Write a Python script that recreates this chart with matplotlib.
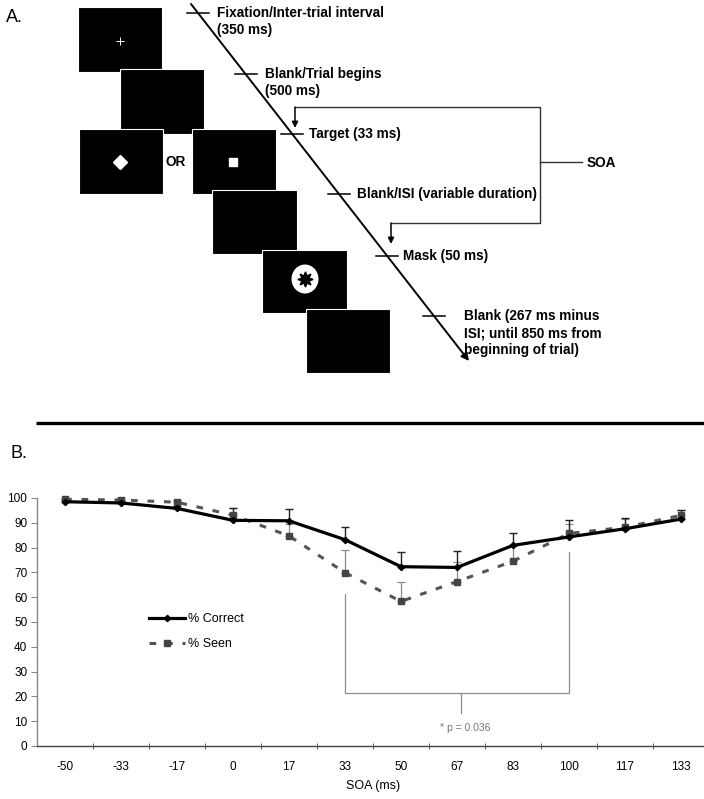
import numpy as np
import matplotlib
matplotlib.use("Agg")
import matplotlib.pyplot as plt
from matplotlib.patches import Rectangle, Ellipse

plt.rcParams["font.family"] = ["Liberation Sans", "DejaVu Sans"]

## VERİ (panel B)

soa_labels = ["-50", "-33", "-17", "0", "17", "33", "50", "67", "83", "100", "117", "133"]
correct = [98.5, 98.0, 95.8, 91.0, 90.8, 83.2, 72.3, 72.0, 80.9, 84.3, 87.6, 91.5]
correct_err = [0.6, 0.6, 0.8, 5.0, 4.8, 5.2, 5.9, 6.8, 4.9, 6.8, 4.5, 3.6]
seen = [99.5, 99.2, 98.3, 93.1, 84.7, 69.9, 58.3, 66.3, 74.5, 85.7, 88.2, 93.0]
seen_err = [0.5, 0.6, 0.8, 3.0, 5.0, 9.0, 7.9, 8.0, 6.0, 3.8, 3.5, 2.3]
yticks = [0, 10, 20, 30, 40, 50, 60, 70, 80, 90, 100]

# anlamlılık parantezi: hangi SOA'lar arası ve p değeri
sig_pair = ("33", "100")
sig_text = "* p = 0.036"

## PANEL A şema (piksel koordinatları)

# kareler: (x, y, genişlik, yükseklik)
screens = [(78, 7, 84, 65), (120, 69, 84, 65), (79, 129, 84, 65), (192, 129, 84, 65),
           (212, 190, 85, 64), (262, 250, 85, 63), (306, 309, 84, 64)]
timeline_labels = [
    (13, 217, ["Fixation/Inter-trial interval", "(350 ms)"]),
    (74, 265, ["Blank/Trial begins", "(500 ms)"]),
    (134, 309, ["Target (33 ms)"]),
    (194, 357, ["Blank/ISI (variable duration)"]),
    (256, 403, ["Mask (50 ms)"]),
    (316, 464, ["Blank (267 ms minus", "ISI; until 850 ms from", "beginning of trial)"]),
]

fig = plt.figure(figsize=(7.04, 7.99), dpi=100)

# üst katman: tüm figür piksel ölçeğinde
ov = fig.add_axes([0, 0, 1, 1])
ov.set_xlim(0, 704)
ov.set_ylim(799, 0)
ov.axis("off")

for (x, y, w, h) in screens:
    ov.add_patch(Rectangle((x, y), w, h, facecolor="black", edgecolor="white", lw=0.8))

# uyaranlar
ov.plot(120, 41, marker="+", color="white", ms=6, mew=0.7)
ov.plot(120, 162, marker="D", color="white", ms=7)
ov.plot(233, 162, marker="s", color="white", ms=5.5)
ov.add_patch(Ellipse((305, 279), 27, 29, facecolor="white", edgecolor="none"))
ov.plot(305, 279, marker=(8, 1, 0), color="black", ms=11)
ov.text(176, 162, "OR", fontsize=9.8, fontweight="bold", ha="center", va="center")

# zaman çizgisi
x0, y0, x1, y1 = 191, 4, 469, 361
ov.annotate("", xy=(x1, y1), xytext=(x0, y0),
            arrowprops=dict(arrowstyle="-|>", color="black", lw=1.4,
                            mutation_scale=11, shrinkA=0, shrinkB=0))
for (ty, tx, lines) in timeline_labels:
    cx = x0 + (ty - y0) * (x1 - x0) / (y1 - y0)
    ov.plot([cx - 11, cx + 11], [ty, ty], color="black", lw=1.1)
    for i, line in enumerate(lines):
        ov.text(tx, ty + i * 17, line, fontsize=9.8, fontweight="bold", ha="left", va="center")

# SOA parantezi
bc = "#333333"
ov.plot([295, 540, 540, 391], [107, 107, 223, 223], color=bc, lw=1)
ov.plot([540, 582], [162, 162], color=bc, lw=1)
for ax_x, top in [(295, 107), (391, 223)]:
    ov.annotate("", xy=(ax_x, top + 21), xytext=(ax_x, top),
                arrowprops=dict(arrowstyle="-|>", color="black", lw=1.1,
                                mutation_scale=9, shrinkA=0, shrinkB=0))
ov.text(587, 163, "SOA", fontsize=9.8, fontweight="bold", ha="left", va="center")

ov.text(6, 18, "A.", fontsize=13, ha="left", va="center")
ov.text(11, 453, "B.", fontsize=13, ha="left", va="center")
ov.plot([36, 704], [423, 423], color="black", lw=2.4, solid_capstyle="butt")

## PANEL B grafik

ax = fig.add_axes([37 / 704, 53 / 799, 672 / 704, 248 / 799])
x = np.arange(len(soa_labels))

ax.errorbar(x, seen, yerr=[np.zeros(len(seen)), seen_err], fmt="none",
            ecolor="#8a8a8a", elinewidth=0.9, capsize=3, capthick=0.9, zorder=2)
ax.errorbar(x, correct, yerr=[np.zeros(len(correct)), correct_err], fmt="none",
            ecolor="#222222", elinewidth=1.0, capsize=3, capthick=1.0, zorder=3)
ax.plot(x, seen, color="#555555", lw=2.2, ls=(0, (2.2, 3.2)), marker="s", ms=4,
        mfc="#444444", mec="#444444", label="% Seen", zorder=4, clip_on=False)
ax.plot(x, correct, color="black", lw=2.3, marker="D", ms=3.2,
        label="% Correct", zorder=5, clip_on=False)

# anlamlılık parantezi
i1, i2 = soa_labels.index(sig_pair[0]), soa_labels.index(sig_pair[1])
gc = "#8c8c8c"
ax.plot([i1, i1, i2, i2], [61.3, 21.5, 21.5, 78.3], color=gc, lw=0.9)
mid = (i1 + i2) / 2 + 0.07
ax.plot([mid, mid], [21.5, 13.3], color=gc, lw=0.9)
ax.text(mid + 0.08, 7.4, sig_text, fontsize=7.5, color="#777777", ha="center", va="center")

ax.set_xlim(-0.5, len(soa_labels) - 0.5)
ax.set_ylim(0, 100)
ax.set_yticks(yticks)
ax.set_xticks(x)
ax.set_xticklabels(soa_labels)
ax.set_xticks(np.arange(0.5, len(soa_labels) - 0.5, 1), minor=True)
ax.tick_params(axis="x", which="major", length=0, labelsize=8.5, pad=11)
ax.tick_params(axis="x", which="minor", length=5, direction="inout", color="#444444")
ax.tick_params(axis="y", length=4, color="#888888", labelsize=8.5, pad=3)
ax.set_xlabel("SOA (ms)", fontsize=9, labelpad=5)

for s in ["top", "right"]:
    ax.spines[s].set_visible(False)
ax.spines["left"].set_color("#888888")
ax.spines["bottom"].set_color("#444444")
ax.spines["left"].set_linewidth(1)
ax.spines["bottom"].set_linewidth(1)
ax.patch.set_alpha(0)

handles, labels = ax.get_legend_handles_labels()
ax.legend(handles[::-1], labels[::-1], loc="upper left", bbox_to_anchor=(0.15, 0.58),
          frameon=False, fontsize=9, handlelength=2.9, handletextpad=0.2, labelspacing=1.0)

fig.savefig("out.png", dpi=100)
